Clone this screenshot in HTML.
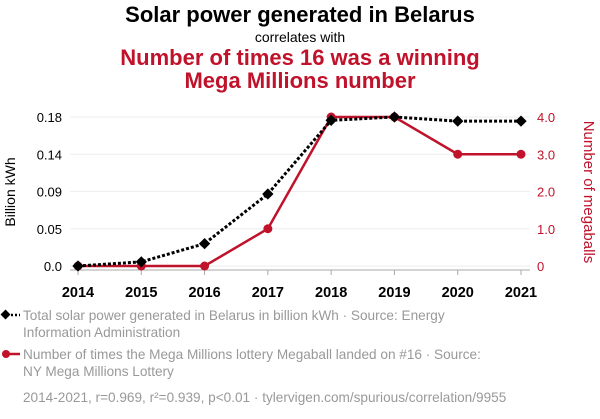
<!DOCTYPE html>
<html><head><meta charset="utf-8"><style>
body{margin:0;background:#fff;width:600px;height:414px;overflow:hidden;font-family:"Liberation Sans",sans-serif}
</style></head><body>
<svg width="600" height="414" xmlns="http://www.w3.org/2000/svg" font-family="Liberation Sans, sans-serif">
<text x="300" y="22" text-anchor="middle" font-size="22" font-weight="bold" fill="#000">Solar power generated in Belarus</text>
<text x="300" y="42" text-anchor="middle" font-size="14" fill="#000">correlates with</text>
<text x="300" y="65" text-anchor="middle" font-size="22" font-weight="bold" fill="#c0122a">Number of times 16 was a winning</text>
<text x="300" y="88" text-anchor="middle" font-size="22" font-weight="bold" fill="#c0122a">Mega Millions number</text>
<g id="grid"></g>
<g id="axes"></g>
<g id="series"></g>
<text transform="translate(15,192) rotate(-90)" text-anchor="middle" font-size="14" fill="#000">Billion kWh</text>
<text transform="translate(584,192) rotate(90)" text-anchor="middle" font-size="15" fill="#c0122a">Number of megaballs</text>
<g>
<line x1="3" y1="315" x2="20" y2="315" stroke="#000" stroke-width="2.5" stroke-dasharray="2,2"/>
<rect x="2" y="311" width="7" height="7" transform="rotate(45 5.5 314.5)" fill="#000"/>
<text x="23" y="320" font-size="13.6" fill="#999">Total solar power generated in Belarus in billion kWh · Source: Energy</text>
<text x="23" y="337" font-size="13.6" fill="#999">Information Administration</text>
</g>
<g>
<line x1="3" y1="354" x2="20" y2="354" stroke="#c0122a" stroke-width="2.5"/>
<circle cx="6" cy="354" r="4" fill="#c0122a"/>
<text x="23" y="359" font-size="13.6" fill="#999">Number of times the Mega Millions lottery Megaball landed on #16 · Source:</text>
<text x="23" y="376" font-size="13.6" fill="#999">NY Mega Millions Lottery</text>
</g>
<text x="23" y="402" font-size="13.6" fill="#999">2014-2021, r=0.969, r²=0.939, p&lt;0.01 · tylervigen.com/spurious/correlation/9955</text>
</svg>
<script>
const years=[2014,2015,2016,2017,2018,2019,2020,2021];
const solar=[0,0.005,0.027,0.087,0.176,0.18,0.175,0.175];
const megaballs=[0,0,0,1,4,4,3,3];
const leftTicks=[0,0.045,0.09,0.135,0.18];
const leftTickLabels=["0.0","0.05","0.09","0.14","0.18"];
const rightTicks=[0,1,2,3,4];
const rightTickLabels=["0","1.0","2.0","3.0","4.0"];
const NS="http://www.w3.org/2000/svg";
const x=y=>78+(y-2014)*(521-78)/7;
const yL=v=>266-v*(149/0.18);
const yR=v=>266-v*(149/4);
function mk(t,a,p){const e=document.createElementNS(NS,t);for(const k in a)e.setAttribute(k,a[k]);p.appendChild(e);return e;}
const grid=document.getElementById('grid'),axes=document.getElementById('axes'),ser=document.getElementById('series');
leftTicks.forEach((v,i)=>{
 const g=mk('line',{x1:70,x2:530,y1:yL(v),y2:yL(v),stroke:'#eee','stroke-width':1},grid);
 
 
 const t=mk('text',{x:62,y:yL(v)+5,'text-anchor':'end','font-size':13,fill:'#000'},axes);
 t.textContent=leftTickLabels[i];
 
 
});
rightTicks.forEach((v,i)=>{
 const t=mk('text',{x:537,y:yR(v)+5,'font-size':13,fill:'#c0122a'},axes);
 t.textContent=rightTickLabels[i];
 
 
});
const ax=mk('line',{x1:70,x2:530,y1:270,y2:270,stroke:'#aaa','stroke-width':1},axes);


years.forEach(yr=>{
 mk('line',{x1:x(yr),x2:x(yr),y1:270,y2:275,stroke:'#aaa'},axes);
 const t=mk('text',{x:x(yr),y:297,'text-anchor':'middle','font-size':14.5,'font-weight':'bold',fill:'#000'},axes);
 t.textContent=yr;
 
 
});
const rl=mk('polyline',{points:years.map((yr,i)=>x(yr)+','+yR(megaballs[i])).join(' '),fill:'none',stroke:'#c0122a','stroke-width':2.5},ser);


years.forEach((yr,i)=>{
 const c=mk('circle',{cx:x(yr),cy:yR(megaballs[i]),r:4.5,fill:'#c0122a'},ser);
 
 
});
const bl=mk('polyline',{points:years.map((yr,i)=>x(yr)+','+yL(solar[i])).join(' '),fill:'none',stroke:'#000','stroke-width':3,'stroke-dasharray':'3,2'},ser);


years.forEach((yr,i)=>{
 const cx=x(yr),cy=yL(solar[i]);
 const d=mk('rect',{x:cx-4,y:cy-4,width:8,height:8,fill:'#000',transform:`rotate(45 ${cx} ${cy})`},ser);
 
 
});
</script>
</body></html>
